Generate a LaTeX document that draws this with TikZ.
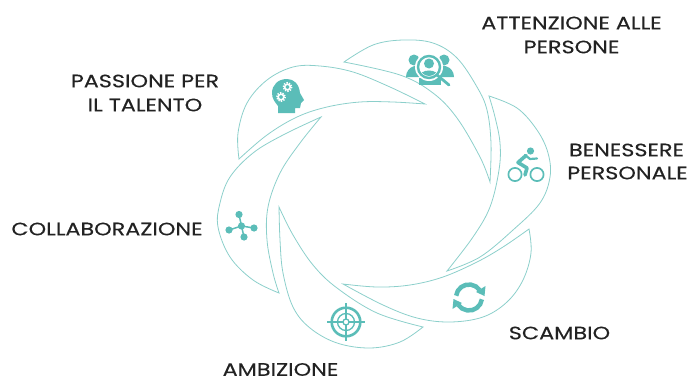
\documentclass[tikz,border=0pt]{standalone}
\usepackage{fontspec}
\setmainfont{Poppins}[FakeStretch=1.24,FakeBold=0.25]
\definecolor{teal1}{HTML}{5BBDB8}
\definecolor{line1}{HTML}{8CCFCB}
\definecolor{ink}{HTML}{222222}
\tikzset{
  petal/.style={draw=line1,line width=0.8pt,line join=miter},
  lab/.style={font=\fontsize{18}{20}\selectfont,text=ink,inner sep=0pt,anchor=center},
  ic/.style={fill=teal1,draw=none},
  icl/.style={draw=teal1,fill=none}
}
\begin{document}
\begin{tikzpicture}[x=1pt,y=-1pt]
\useasboundingbox (0,0) rectangle (687,380);
% petals
\draw[petal] plot[smooth,tension=.6] coordinates {(344,62) (373,45) (403,40) (433,43) (457,58) (477,87) (487,110) (491,143) (490,182)}
  -- plot[smooth,tension=.6] coordinates {(490,182) (480,157) (457,118) (433,93) (400,75) (344,62)} -- cycle;
\draw[petal] plot[smooth,tension=.6] coordinates {(489,96) (517,108) (537,130) (548,153) (550,177) (540,203) (513,230) (480,257) (447,271)}
  -- plot[smooth,tension=.6] coordinates {(447,271) (473,237) (490,207) (499,170) (500,143) (495,117) (489,96)} -- cycle;
\draw[petal] plot[smooth,tension=.6] coordinates {(529,229) (531,253) (523,280) (507,302) (483,317) (450,322) (417,318) (383,305) (343,284)}
  -- plot[smooth,tension=.6] coordinates {(343,284) (377,287) (410,285) (443,277) (477,262) (503,247) (529,229)} -- cycle;
\draw[petal] plot[smooth,tension=.6] coordinates {(423,327) (400,342) (370,348) (337,343) (310,328) (293,307) (283,273) (280,240) (279,207)}
  -- plot[smooth,tension=.6] coordinates {(279,207) (293,235) (313,265) (337,288) (377,313) (423,327)} -- cycle;
\draw[petal] plot[smooth,tension=.6] coordinates {(279,293) (253,280) (230,257) (218,227) (220,203) (230,177) (253,153) (283,135) (321,117)}
  -- plot[smooth,tension=.6] coordinates {(321,117) (300,143) (280,173) (268,207) (267,240) (273,273) (279,293)} -- cycle;
\draw[petal] plot[smooth,tension=.6] coordinates {(239,159) (238,133) (247,103) (267,80) (293,67) (320,66) (353,72) (390,87) (425,104)}
  -- plot[smooth,tension=.6] coordinates {(425,104) (393,102) (360,102) (327,107) (297,117) (267,135) (239,159)} -- cycle;
% people icon
\fill[ic] (414,60) circle (5.5) (444,60) circle (5.5);
\fill[ic] (406,77) .. controls (406,66) and (420,62) .. (422,70) -- (420,77) -- cycle;
\fill[ic] (454,77) .. controls (454,66) and (440,62) .. (436,70) -- (440,77) -- cycle;
\fill[ic] (419,78) -- (441,78) -- (441,85) -- (419,85) -- cycle;
\fill[white] (429,67) circle (14);
\draw[icl,line width=2.4pt] (429,67) circle (11);
\fill[ic] (429,63.5) circle (5);
\begin{scope}
\clip (429,67) circle (9);
\fill[ic] (419,78) .. controls (419,68) and (439,68) .. (439,78) -- cycle;
\end{scope}
\draw[icl,line width=2.8pt,line cap=round] (437,75) -- (449,85);
% head icon
\fill[ic] (278,113) -- (295,113) -- (295,108) -- (300,108) -- (301,103) -- (304,100) -- (300,93)
  .. controls (299,84) and (294,79) .. (287,79) .. controls (278,79) and (272,85) .. (272,93) .. controls (272,99) and (275,102) .. (278,106) -- cycle;
\draw[white,line width=1.6pt,dash pattern=on 1.3pt off 1.3pt] (287.5,87) circle (4.2) (281,97) circle (4.2);
\draw[white,line width=1.5pt] (287.5,87) circle (2.8) (281,97) circle (2.8);
% bike icon
\draw[icl,line width=1.7pt] (515,174.5) circle (6.6) (537,174.5) circle (6.6);
\fill[ic] (530.5,151) circle (3.6);
\draw[icl,line width=3.6pt,line cap=round,line join=round] (526,155.5) -- (518,162.5) -- (527,168) -- (525,175);
\draw[icl,line width=2.2pt,line cap=round,line join=round] (525,155) -- (530,159) -- (537,158.5);
% refresh icon
\coordinate (rc) at (469,297.5);
\draw[icl,line width=4.5pt] ([shift={(188:13)}]rc) arc (188:325:13);
\draw[icl,line width=4.5pt] ([shift={(8:13)}]rc) arc (8:145:13);
\fill[ic] (485.5,286) -- (484.5,296) -- (476,292) -- cycle;
\fill[ic] (452.5,309) -- (453.5,299) -- (462,303) -- cycle;
% target icon
\draw[icl,line width=2.6pt] (346,322) circle (14.3);
\draw[icl,line width=1.3pt] (346,322) circle (8.5) (346,322) circle (3);
\draw[icl,line width=1.1pt] (327,322) -- (343,322) (349,322) -- (365,322) (346,303) -- (346,319) (346,325) -- (346,341);
% network icon
\coordinate (nc) at (241.5,226);
\coordinate (n1) at (239,214.5);
\coordinate (n2) at (229,230);
\coordinate (n3) at (254,228);
\coordinate (n4) at (244,237);
\draw[icl,line width=1.5pt] (nc) -- (n1) (nc) -- (n2) (nc) -- (n3) (nc) -- (n4);
\fill[ic] (nc) circle (3.6) (n1) circle (3.6) (n2) circle (3.6) (n3) circle (3.6) (n4) circle (3.6);
% labels
\node[lab] (a1) at (571.5,23) {ATTENZIONE ALLE};
\node[lab] (a2) at (571.5,47) {PERSONE};
\node[lab] (b1) at (145,81) {PASSIONE PER};
\node[lab] (b2) at (145,105) {IL TALENTO};
\node[lab] (c1) at (626.5,150) {BENESSERE};
\node[lab] (c2) at (627.5,173) {PERSONALE};
\node[lab] (d) at (107,229) {COLLABORAZIONE};
\node[lab] (e) at (559.5,333) {SCAMBIO};
\node[lab] (f) at (280.5,369.5) {AMBIZIONE};
\end{tikzpicture}
\end{document}
